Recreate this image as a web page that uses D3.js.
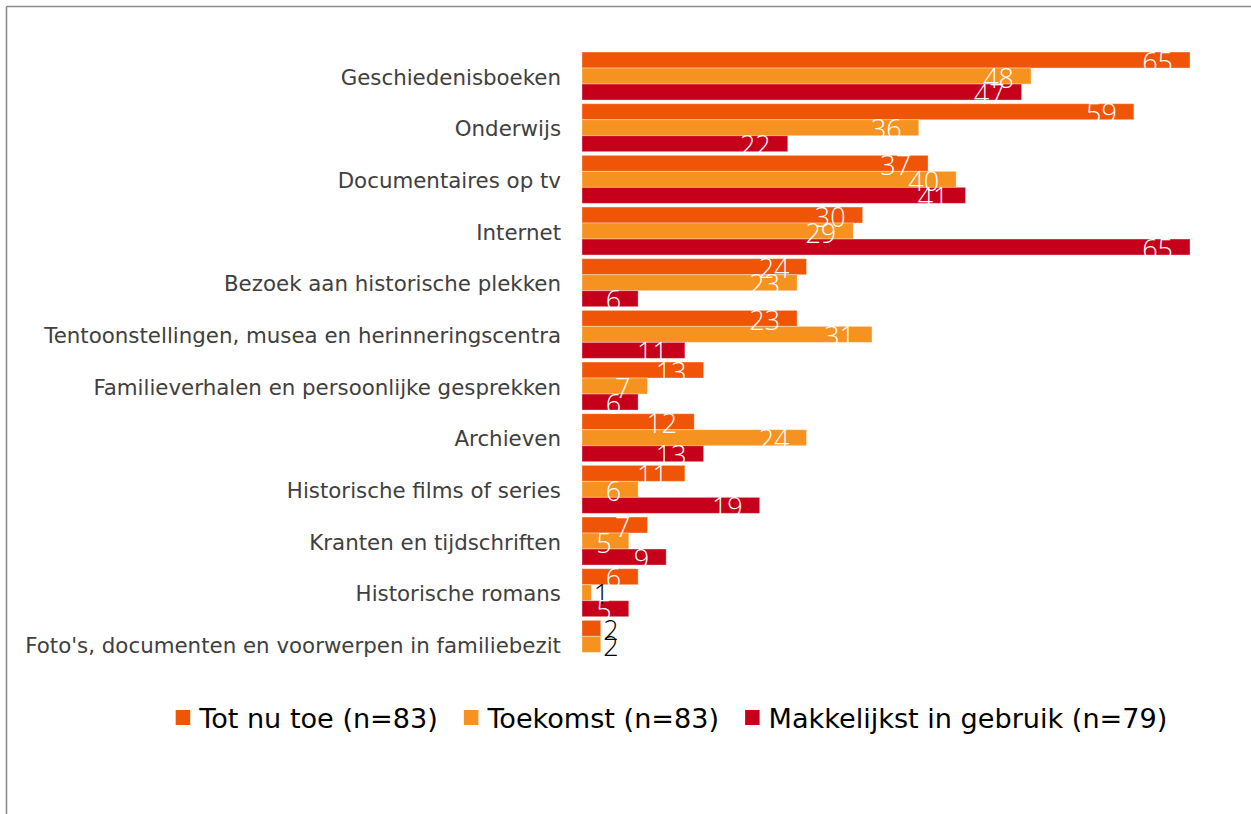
<!DOCTYPE html>
<html>
<head>
<meta charset="utf-8">
<script src="https://cdn.jsdelivr.net/npm/d3@7"></script>
<style>
  html, body { margin: 0; padding: 0; background: #fff; }
  svg { display: block; }
</style>
</head>
<body>
<svg id="chart" width="1251" height="814"></svg>
<script>
const categories = [
  "Geschiedenisboeken",
  "Onderwijs",
  "Documentaires op tv",
  "Internet",
  "Bezoek aan historische plekken",
  "Tentoonstellingen, musea en herinneringscentra",
  "Familieverhalen en persoonlijke gesprekken",
  "Archieven",
  "Historische films of series",
  "Kranten en tijdschriften",
  "Historische romans",
  "Foto's, documenten en voorwerpen in familiebezit"
];
const seriesNames = ["Tot nu toe (n=83)", "Toekomst (n=83)", "Makkelijkst in gebruik (n=79)"];
const totNuToe    = [65, 59, 37, 30, 24, 23, 13, 12, 11, 7, 6, 2];
const toekomst    = [48, 36, 40, 29, 23, 31, 7, 24, 6, 5, 1, 2];
const makkelijkst = [47, 22, 41, 65, 6, 11, 6, 13, 19, 9, 5, null];
const colors = ["#F05406", "#F6921F", "#C6001A"];

const seriesValues = [totNuToe, toekomst, makkelijkst];

const svg = d3.select("#chart");

// frame
svg.append("line").attr("x1", 6.5).attr("x2", 1251).attr("y1", 6.5).attr("y2", 6.5)
  .attr("stroke", "#8c8c8c").attr("stroke-width", 1.6);
svg.append("line").attr("x1", 6.5).attr("x2", 6.5).attr("y1", 6.5).attr("y2", 814)
  .attr("stroke", "#8c8c8c").attr("stroke-width", 1.6);

const x = d3.scaleLinear().domain([0, 65]).range([582, 1190]);
const y = d3.scaleBand().domain(categories).range([50.2, 670.2])
  .paddingInner(0.071).paddingOuter(0.0355);
const ySub = d3.scaleBand().domain([0, 1, 2]).range([0, y.bandwidth()]);

// category labels
svg.append("g").selectAll("text").data(categories).join("text")
  .attr("x", 561)
  .attr("y", d => y(d) + y.bandwidth() / 2 + 8.5)
  .attr("text-anchor", "end")
  .attr("font-family", "'DejaVu Sans', Verdana, sans-serif")
  .attr("font-size", 21.35)
  .attr("fill", "#404040")
  .text(d => d);

const rows = [];
categories.forEach((c, i) => {
  seriesValues.forEach((vals, s) => {
    if (vals[i] != null) rows.push({ cat: c, s, v: vals[i] });
  });
});

const g = svg.append("g");
g.selectAll("rect").data(rows).join("rect")
  .attr("x", x(0))
  .attr("y", d => y(d.cat) + ySub(d.s))
  .attr("width", d => x(d.v) - x(0))
  .attr("height", ySub.bandwidth())
  .attr("fill", d => colors[d.s])
  .attr("stroke", "#ffffff")
  .attr("stroke-opacity", 0.35)
  .attr("stroke-width", 1);

g.selectAll("text").data(rows).join("text")
  .attr("x", d => d.v >= 5 ? x(d.v) - 17 : x(d.v) + 2.5)
  .attr("y", d => y(d.cat) + ySub(d.s) + 19.5)
  .attr("text-anchor", d => d.v >= 5 ? "end" : "start")
  .attr("font-family", "'Open Sans', 'Noto Sans', sans-serif")
  .attr("font-weight", 300)
  .attr("font-size", 27)
  .attr("fill", d => d.v >= 5 ? "#ffffff" : "#000000")
  .text(d => d.v);

// legend
const leg = svg.append("g");
const items = [];
seriesNames.forEach((name, i) => {
  const it = leg.append("g");
  it.append("rect").attr("x", 0).attr("y", 710).attr("width", 14.5).attr("height", 15)
    .attr("fill", colors[i]);
  const t = it.append("text").attr("x", 23.5).attr("y", 727.5)
    .attr("font-family", "'DejaVu Sans', Verdana, sans-serif")
    .attr("font-size", 27.1)
    .attr("fill", "#000")
    .text(name);
  const w = 23.5 + t.node().getComputedTextLength();
  items.push({ it, w });
});
const gap = 26;
const total = d3.sum(items, d => d.w) + gap * (items.length - 1);
let start = 671.5 - total / 2;
items.forEach(d => {
  d.it.attr("transform", `translate(${start},0)`);
  start += d.w + gap;
});
</script>
</body>
</html>
